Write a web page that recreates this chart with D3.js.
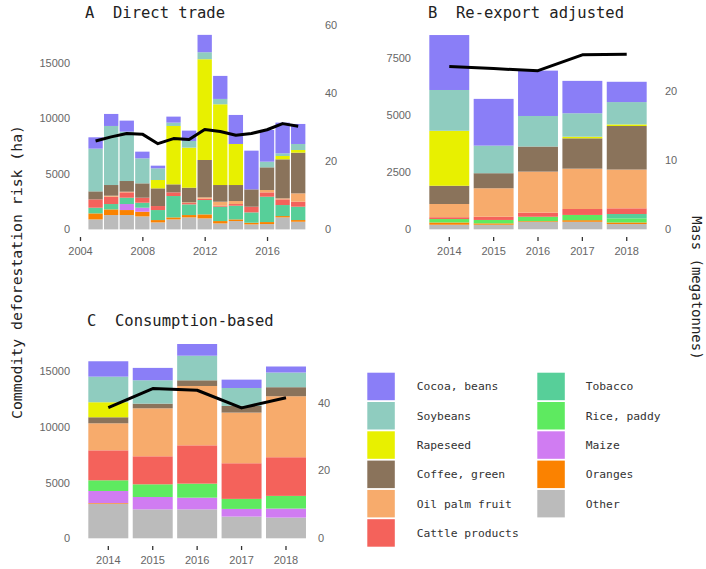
<!DOCTYPE html>
<html>
<head>
<meta charset="utf-8">
<script src="https://cdn.jsdelivr.net/npm/d3@7"></script>
<style>
  body { margin: 0; background: #fff; }
  svg { display: block; }
</style>
</head>
<body>
<svg id="chart" width="706" height="569"></svg>
<script>
// stacking order, bottom -> top
const commodities = ["Other", "Oranges", "Maize", "Rice, paddy", "Tobacco", "Cattle products",
                     "Oil palm fruit", "Coffee, green", "Rapeseed", "Soybeans", "Cocoa, beans"]
const colours = ["#bbbbbb", "#fb8200", "#d07cf2", "#5eea60", "#57cf99", "#f4625b",
                 "#f7ab6c", "#8a735b", "#e8f000", "#8fccbf", "#8a7ef7"]

// legend columns (as in the figure)
const legendLeft = ["Cocoa, beans", "Soybeans", "Rapeseed", "Coffee, green", "Oil palm fruit", "Cattle products"]
const legendRight = ["Tobacco", "Rice, paddy", "Maize", "Oranges", "Other"]

// A: direct trade, risk in ha per commodity (same order as commodities)
const yearsA = [2005, 2006, 2007, 2008, 2009, 2010, 2011, 2012, 2013, 2014, 2015, 2016, 2017, 2018]
const riskA = [
    [900, 540, 0, 0, 510, 750, 0, 720, 0, 3840, 1020],
    [1290, 510, 0, 0, 480, 660, 90, 960, 0, 5310, 1080],
    [1290, 450, 540, 0, 570, 480, 60, 960, 0, 4440, 990],
    [1170, 420, 360, 0, 450, 450, 0, 1290, 0, 2250, 600],
    [630, 210, 0, 0, 900, 360, 0, 1590, 750, 1050, 240],
    [900, 180, 0, 0, 1920, 330, 0, 720, 5250, 300, 540],
    [1080, 210, 0, 0, 960, 120, 60, 1320, 3600, 600, 930],
    [990, 360, 0, 0, 1290, 120, 120, 3360, 9060, 630, 1560],
    [540, 210, 0, 0, 1290, 90, 360, 1500, 7260, 480, 2070],
    [750, 150, 0, 0, 1230, 150, 270, 1440, 3690, 0, 2610],
    [450, 150, 0, 0, 930, 510, 0, 1560, 0, 0, 3480],
    [480, 180, 0, 0, 2280, 390, 210, 2040, 0, 510, 2850],
    [1080, 120, 0, 0, 990, 510, 90, 3510, 300, 240, 2760],
    [690, 150, 0, 0, 1200, 450, 750, 3660, 240, 540, 1800]
]
const massA = [26.0, 27.2, 28.2, 28.0, 25.2, 26.7, 26.4, 29.4, 28.8, 27.7, 28.2, 29.3, 31.1, 30.3]

// B: re-export adjusted
const yearsB = [2014, 2015, 2016, 2017, 2018]
const riskB = [
    [200, 100, 0, 150, 0, 80, 580, 800, 2410, 1790, 2410],
    [200, 60, 0, 150, 0, 140, 1250, 660, 0, 1210, 2050],
    [330, 30, 0, 190, 0, 180, 1800, 1100, 0, 1340, 1990],
    [330, 70, 0, 230, 0, 260, 1770, 1330, 70, 1030, 1420],
    [230, 70, 0, 180, 190, 250, 1700, 1910, 70, 980, 890]
]
const massB = [23.6, 23.3, 23.0, 25.3, 25.4]

// C: consumption-based
const yearsC = [2014, 2015, 2016, 2017, 2018]
const riskC = [
    [3100, 60, 1090, 960, 0, 2690, 2430, 540, 1350, 2300, 1380],
    [2600, 0, 1110, 1140, 0, 2515, 4310, 420, 0, 2100, 1110],
    [2600, 0, 1050, 1260, 0, 3440, 5330, 510, 0, 2210, 1050],
    [1950, 0, 690, 900, 0, 3200, 4550, 600, 0, 1610, 750],
    [1860, 0, 810, 1140, 0, 3470, 5480, 810, 0, 1320, 540]
]
const massC = [38.5, 44.1, 43.6, 38.4, 41.4]

const mono = "'DejaVu Sans Mono', 'Liberation Mono', monospace"
const sans = "'Liberation Sans', Arial, sans-serif"
const colour = d3.scaleOrdinal().domain(commodities).range(colours)

const svg = d3.select("#chart")

const panels = [
    { title: "A  Direct trade", years: yearsA, risk: riskA, mass: massA, band: false,
      xRange: [80, 298.2], xTicks: [2004, 2008, 2012, 2016],
      yRange: [229.4, 25.3], riskMax: 18350, massMax: 60,
      riskTicks: [0, 5000, 10000, 15000], massTicks: [0, 20, 40, 60],
      leftX: 70, rightX: 325, axisY: 237, titleX: 85, titleY: 18 },
    { title: "B  Re-export adjusted", years: yearsB, risk: riskB, mass: massB, band: true,
      xRange: [427.1, 648.9],
      yRange: [229.3, 30], riskMax: 8741, massMax: 28.9,
      riskTicks: [0, 2500, 5000, 7500], massTicks: [0, 10, 20],
      leftX: 411, rightX: 665, axisY: 237, titleX: 428, titleY: 18 },
    { title: "C  Consumption-based", years: yearsC, risk: riskC, mass: massC, band: true,
      xRange: [86.1, 308.2],
      yRange: [538.3, 340], riskMax: 17810, massMax: 58.4,
      riskTicks: [0, 5000, 10000, 15000], massTicks: [0, 20, 40],
      leftX: 70, rightX: 318, axisY: 546, titleX: 87, titleY: 326 }
]

const drawPanel = p => {
    const g = svg.append("g")

    const rows = p.years.map((year, i) => {
        const row = { year }
        commodities.forEach((c, j) => { row[c] = p.risk[i][j] })
        return row
    })
    const series = d3.stack().keys(commodities)(rows)

    let x, barX, barW, centre
    if (p.band) {
        x = d3.scaleBand().domain(p.years).range(p.xRange).paddingInner(0.1).paddingOuter(0.05)
        barX = d => x(d.data.year)
        barW = x.bandwidth()
        centre = yr => x(yr) + x.bandwidth() / 2
    } else {
        x = d3.scaleLinear().domain([2004, 2018]).range(p.xRange)
        barW = (x(2005) - x(2004)) * 0.92
        barX = d => x(d.data.year) - barW / 2
        centre = yr => x(yr)
    }

    const yRisk = d3.scaleLinear().domain([0, p.riskMax]).range(p.yRange)
    const yMass = d3.scaleLinear().domain([0, p.massMax]).range(p.yRange)

    // stacked bars
    g.selectAll("g.layer")
        .data(series)
        .enter().append("g")
        .attr("class", "layer")
        .attr("fill", d => colour(d.key))
        .selectAll("rect")
        .data(d => d)
        .enter().append("rect")
        .attr("x", barX)
        .attr("width", barW)
        .attr("y", d => yRisk(d[1]))
        .attr("height", d => yRisk(d[0]) - yRisk(d[1]))

    // mass line
    const line = d3.line()
        .x((d, i) => centre(p.years[i]))
        .y(d => yMass(d))
    g.append("path")
        .datum(p.mass)
        .attr("d", line)
        .attr("fill", "none")
        .attr("stroke", "#000")
        .attr("stroke-width", 3)
        .attr("stroke-linejoin", "round")

    // x axis
    const xAxis = p.band ? d3.axisBottom(x) : d3.axisBottom(x).tickValues(p.xTicks).tickFormat(d3.format("d"))
    const gx = g.append("g")
        .attr("transform", `translate(0,${p.axisY})`)
        .call(xAxis.tickSize(4).tickPadding(6))
    gx.select(".domain").remove()
    gx.selectAll("line").attr("stroke", "#333").attr("stroke-width", 1.3)

    // left / right axes
    const gl = g.append("g")
        .attr("transform", `translate(${p.leftX},0)`)
        .call(d3.axisLeft(yRisk).tickValues(p.riskTicks).tickFormat(d3.format("d")).tickSize(0).tickPadding(0))
    const gr = g.append("g")
        .attr("transform", `translate(${p.rightX},0)`)
        .call(d3.axisRight(yMass).tickValues(p.massTicks).tickFormat(d3.format("d")).tickSize(0).tickPadding(0))

    ;[gx, gl, gr].forEach(a => {
        a.select(".domain").remove()
        a.selectAll("text")
            .attr("fill", "#666")
            .style("font-family", sans)
            .style("font-size", "11px")
    })

    g.append("text")
        .attr("x", p.titleX)
        .attr("y", p.titleY)
        .style("white-space", "pre")
        .style("font-family", mono)
        .style("font-size", "15.5px")
        .attr("fill", "#222")
        .text(p.title)
}

panels.forEach(drawPanel)

// axis titles
svg.append("text")
    .attr("transform", "translate(22,272) rotate(-90)")
    .attr("text-anchor", "middle")
    .style("font-family", mono)
    .style("font-size", "14.8px")
    .attr("fill", "#222")
    .text("Commodity deforestation risk (ha)")

svg.append("text")
    .attr("transform", "translate(692,288) rotate(90)")
    .attr("text-anchor", "middle")
    .style("font-family", mono)
    .style("font-size", "14px")
    .attr("fill", "#222")
    .text("Mass (megatonnes)")

// legend
const legendCols = [
    { items: legendLeft, x: 367.3, tx: 416.7 },
    { items: legendRight, x: 537.3, tx: 585.7 }
]
legendCols.forEach(col => {
    const item = svg.append("g").selectAll("g")
        .data(col.items)
        .enter().append("g")
        .attr("transform", (d, i) => `translate(0,${372.7 + i * 29.3})`)
    item.append("rect")
        .attr("x", col.x)
        .attr("width", 27.5)
        .attr("height", 27.5)
        .attr("fill", d => colour(d))
    item.append("text")
        .attr("x", col.tx)
        .attr("y", 13.8)
        .attr("dy", "0.35em")
        .style("font-family", mono)
        .style("font-size", "11.3px")
        .attr("fill", "#333")
        .text(d => d)
})
</script>
</body>
</html>
